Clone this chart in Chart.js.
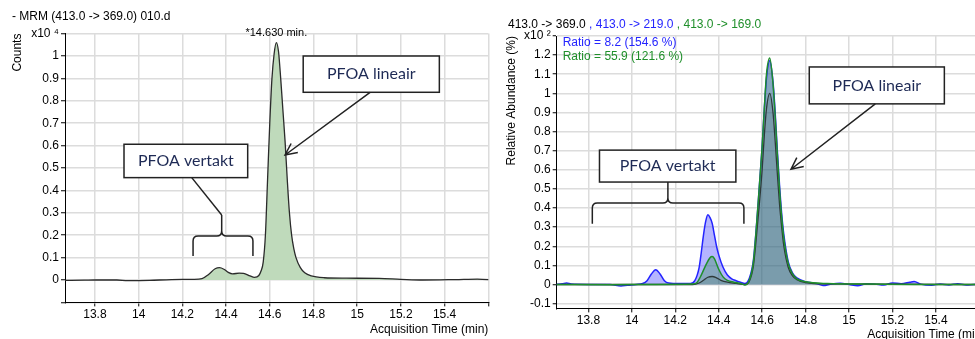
<!DOCTYPE html>
<html>
<head>
<meta charset="utf-8">
<script src="https://cdn.jsdelivr.net/npm/chart.js@4.4.0/dist/chart.umd.min.js"></script>
<style>
  html, body { margin: 0; padding: 0; background: #fff; overflow: hidden; }
  #wrap { position: relative; width: 975px; height: 339px; overflow: hidden; }
  #leftChart { position: absolute; left: 0; top: 0; }
  #rightChart { position: absolute; left: 490px; top: 0; }
</style>
</head>
<body>
<div id="wrap">
  <canvas id="leftChart" width="500" height="339"></canvas>
  <canvas id="rightChart" width="510" height="345"></canvas>
</div>
<script>
// Axis ticks
const xTicks = [13.8, 14, 14.2, 14.4, 14.6, 14.8, 15, 15.2, 15.4, 15.6];
const xTickLabels = ['13.8', '14', '14.2', '14.4', '14.6', '14.8', '15', '15.2', '15.4', ''];
const leftYTicks = [-0.1, 0, 0.1, 0.2, 0.3, 0.4, 0.5, 0.6, 0.7, 0.8, 0.9, 1, 1.1];
const leftYLabels = ['', '0', '0.1', '0.2', '0.3', '0.4', '0.5', '0.6', '0.7', '0.8', '0.9', '1', 'x10 \u2074'];
const rightYTicks = [-0.1, 0, 0.1, 0.2, 0.3, 0.4, 0.5, 0.6, 0.7, 0.8, 0.9, 1, 1.1, 1.2, 1.3];
const rightYLabels = ['-0.1', '0', '0.1', '0.2', '0.3', '0.4', '0.5', '0.6', '0.7', '0.8', '0.9', '1', '1.1', '1.2', 'x10 \u00b2'];

// Left: MRM 413.0 -> 369.0, counts x10^4
const mrmTime = [13.66, 13.75, 13.8, 13.9, 13.95, 14.05, 14.15, 14.25, 14.29, 14.32, 14.35, 14.37, 14.39, 14.41,
  14.43, 14.46, 14.48, 14.51, 14.53, 14.55, 14.56, 14.57, 14.58, 14.59, 14.6, 14.61, 14.62, 14.63, 14.64,
  14.65, 14.66, 14.67, 14.68, 14.69, 14.7, 14.71, 14.72, 14.74, 14.76, 14.79, 14.85, 14.95, 15.1, 15.2,
  15.3, 15.45, 15.55, 15.63];
const mrmCounts = [-0.002, -0.001, 0, 0, -0.003, -0.002, 0.002, 0.003, 0.006, 0.025, 0.05, 0.055, 0.048, 0.034,
  0.027, 0.031, 0.03, 0.018, 0.012, 0.02, 0.04, 0.08, 0.2, 0.45, 0.7, 0.9, 1.01, 1.06, 1.02,
  0.9, 0.76, 0.62, 0.45, 0.3, 0.2, 0.14, 0.1, 0.055, 0.032, 0.018, 0.01, 0.008, 0.007, 0.003,
  0, 0.002, 0.004, 0];

// Right: relative abundance (% x10^2)
const q219Time = [13.65, 13.68, 13.7, 13.72, 13.8, 13.9, 13.95, 13.98, 14.02, 14.05, 14.07, 14.09, 14.11, 14.13,
  14.15, 14.17, 14.22, 14.27, 14.29, 14.31, 14.32, 14.33, 14.34, 14.35, 14.36, 14.37, 14.38, 14.39, 14.4,
  14.42, 14.44, 14.46, 14.48, 14.5, 14.52, 14.54, 14.56, 14.58, 14.6, 14.61, 14.62, 14.635, 14.65, 14.66,
  14.67, 14.68, 14.69, 14.7, 14.72, 14.74, 14.76, 14.8, 14.85, 14.88, 14.92, 14.96, 15, 15.04, 15.08,
  15.12, 15.16, 15.2, 15.24, 15.28, 15.3, 15.33, 15.38, 15.42, 15.46, 15.5, 15.55, 15.6, 15.64];
const q219Abund = [0, 0.004, 0.008, 0.002, 0, 0, -0.008, -0.004, 0, 0.005, 0.02, 0.055, 0.077, 0.055,
  0.02, 0.008, 0.005, 0.005, 0.02, 0.09, 0.17, 0.26, 0.33, 0.365, 0.35, 0.32, 0.26, 0.2, 0.155,
  0.09, 0.05, 0.03, 0.02, 0.012, 0.005, 0.03, 0.13, 0.4, 0.72, 0.92, 1.08, 1.17, 1.06, 0.9,
  0.7, 0.52, 0.37, 0.26, 0.12, 0.06, 0.035, 0.015, 0.005, -0.005, 0.003, 0.006, 0, -0.006, 0.004,
  0.002, -0.003, 0.008, 0.004, 0.012, 0.016, 0.002, -0.004, 0.003, -0.002, 0.004, -0.003, 0.002, 0];

const q169Time = [13.65, 13.9, 14.1, 14.28, 14.3, 14.32, 14.34, 14.36, 14.37, 14.38, 14.4, 14.42, 14.44, 14.47,
  14.5, 14.52, 14.54, 14.56, 14.58, 14.6, 14.61, 14.62, 14.635, 14.65, 14.66, 14.67, 14.68, 14.69, 14.7,
  14.72, 14.74, 14.76, 14.8, 14.9, 15.1, 15.3, 15.64];
const q169Abund = [0, -0.001, 0, 0.002, 0.01, 0.05, 0.1, 0.14, 0.146, 0.135, 0.08, 0.04, 0.022, 0.012,
  0.005, -0.002, 0.02, 0.12, 0.4, 0.72, 0.92, 1.1, 1.185, 1.05, 0.88, 0.68, 0.5, 0.35, 0.24,
  0.11, 0.055, 0.03, 0.014, 0.005, 0.002, 0, 0];

const q369Time = [13.65, 14.28, 14.31, 14.33, 14.35, 14.37, 14.39, 14.41, 14.44, 14.48, 14.52, 14.54, 14.56,
  14.58, 14.6, 14.61, 14.62, 14.635, 14.65, 14.66, 14.67, 14.68, 14.69, 14.7, 14.72, 14.74, 14.76, 14.8,
  14.9, 15.64];
const q369Abund = [0, 0, 0.008, 0.022, 0.038, 0.042, 0.035, 0.022, 0.012, 0.006, 0, 0.015, 0.1,
  0.33, 0.6, 0.78, 0.92, 1.0, 0.9, 0.75, 0.58, 0.42, 0.3, 0.2, 0.09, 0.045, 0.025, 0.01,
  0.003, 0];

const FONT = '"Liberation Sans", Arial, sans-serif';
const toXY = (t, v) => t.map((x, i) => ({ x, y: v[i] }));

// Annotations (in data units)
const leftNotes = {
  boxes: [
    { text: 'PFOA lineair', x0: 14.753, x1: 15.376, y0: 1.0, y1: 0.838 },
    { text: 'PFOA vertakt', x0: 13.933, x1: 14.499, y0: 0.606, y1: 0.457 }
  ],
  arrows: [
    { from: [15.059, 0.838], to: [14.67, 0.558], head: true },
    { from: [14.243, 0.457], to: [14.38, 0.29], head: false }
  ],
  brace: { xl: 14.249, xr: 14.523, xc: 14.38, top: 0.29, bar: 0.196, end: 0.107 }
};
const rightNotes = {
  boxes: [
    { text: 'PFOA lineair', x0: 14.817, x1: 15.439, y0: 1.138, y1: 0.945 },
    { text: 'PFOA vertakt', x0: 13.851, x1: 14.479, y0: 0.703, y1: 0.536 }
  ],
  arrows: [
    { from: [15.121, 0.945], to: [14.733, 0.603], head: true }
  ],
  brace: { xl: 13.818, xr: 14.516, xc: 14.166, top: 0.536, bar: 0.427, end: 0.318 }
};

function notesPlugin(notes, drawTexts) {
  return {
    id: 'notes',
    afterDatasetsDraw(chart) {
      const { ctx, scales: { x, y } } = chart;
      const px = v => x.getPixelForValue(v);
      const py = v => y.getPixelForValue(v);
      ctx.save();
      ctx.strokeStyle = '#222';
      ctx.lineWidth = 1.5;
      notes.boxes.forEach(b => {
        const l = px(b.x0), r = px(b.x1), t = py(b.y0), bt = py(b.y1);
        ctx.fillStyle = '#fff';
        ctx.fillRect(l, t, r - l, bt - t);
        ctx.strokeRect(l, t, r - l, bt - t);
        ctx.fillStyle = '#1e2a55';
        ctx.font = '16px Lato, "Open Sans", sans-serif';
        ctx.textAlign = 'center';
        ctx.textBaseline = 'middle';
        ctx.fillText(b.text, (l + r) / 2, (t + bt) / 2);
      });
      notes.arrows.forEach(a => {
        const x1 = px(a.from[0]), y1 = py(a.from[1]), x2 = px(a.to[0]), y2 = py(a.to[1]);
        ctx.beginPath();
        ctx.moveTo(x1, y1);
        ctx.lineTo(x2, y2);
        if (a.head) {
          const ang = Math.atan2(y2 - y1, x2 - x1);
          const len = 13;
          ctx.moveTo(x2 - len * Math.cos(ang - 0.45), y2 - len * Math.sin(ang - 0.45));
          ctx.lineTo(x2, y2);
          ctx.lineTo(x2 - len * Math.cos(ang + 0.45), y2 - len * Math.sin(ang + 0.45));
        }
        ctx.stroke();
      });
      const br = notes.brace;
      const xl = px(br.xl), xr = px(br.xr), xc = px(br.xc);
      const yt = py(br.top), yb = py(br.bar), ye = py(br.end);
      const rr = 5;
      ctx.beginPath();
      ctx.moveTo(xl, ye);
      ctx.lineTo(xl, yb + rr);
      ctx.quadraticCurveTo(xl, yb, xl + rr, yb);
      ctx.lineTo(xc - rr, yb);
      ctx.quadraticCurveTo(xc, yb, xc, yb - rr);
      ctx.lineTo(xc, yt);
      ctx.moveTo(xr, ye);
      ctx.lineTo(xr, yb + rr);
      ctx.quadraticCurveTo(xr, yb, xr - rr, yb);
      ctx.lineTo(xc + rr, yb);
      ctx.quadraticCurveTo(xc, yb, xc, yb - rr);
      ctx.stroke();
      ctx.restore();
    },
    afterDraw(chart) {
      const { ctx } = chart;
      ctx.save();
      ctx.textBaseline = 'middle';
      ctx.textAlign = 'left';
      drawTexts(chart, ctx);
      ctx.restore();
    }
  };
}

function axes(opts) {
  return {
    x: {
      type: 'linear',
      min: opts.xMin,
      max: opts.xMax,
      afterBuildTicks: s => { s.ticks = xTicks.map(v => ({ value: v })); },
      afterFit: s => { s.height = 36.6; },
      grid: { color: '#dcdcdc', lineWidth: 1.5, tickColor: '#000', tickLength: 4, tickWidth: 1 },
      border: { color: '#000', width: 1 },
      ticks: {
        callback: (v, i) => xTickLabels[i],
        font: { family: FONT, size: 12 },
        color: '#000',
        padding: 1,
        maxRotation: 0,
        autoSkip: false
      },
      title: {
        display: true,
        text: 'Acquisition Time (min)',
        align: 'end',
        font: { family: FONT, size: 12 },
        color: '#000',
        padding: { top: 0, bottom: opts.xTitlePad }
      }
    },
    y: {
      type: 'linear',
      min: opts.yMin,
      max: opts.yMax,
      afterBuildTicks: s => { s.ticks = opts.yTicks.map(v => ({ value: v })); },
      afterFit: s => { s.width = opts.yWidth; },
      grid: { color: '#dcdcdc', lineWidth: 1.5, tickColor: '#000', tickLength: 4, tickWidth: 1 },
      border: { color: '#000', width: 1 },
      ticks: {
        callback: (v, i) => opts.yLabels[i],
        font: { family: FONT, size: 12 },
        color: '#000',
        padding: 2,
        autoSkip: false
      },
      title: {
        display: true,
        text: opts.yTitle,
        align: 'end',
        font: { family: FONT, size: 12 },
        color: '#000',
        padding: { top: opts.yTitlePad, bottom: 0 }
      }
    }
  };
}

// Left chart
new Chart(document.getElementById('leftChart'), {
  type: 'line',
  data: {
    datasets: [{
      label: '413.0 -> 369.0',
      data: toXY(mrmTime, mrmCounts),
      borderColor: '#2b2b2b',
      borderWidth: 1.3,
      backgroundColor: '#bfdabb',
      fill: 'origin',
      pointRadius: 0,
      cubicInterpolationMode: 'monotone'
    }]
  },
  options: {
    responsive: false,
    animation: false,
    devicePixelRatio: 1,
    layout: { padding: { left: 0, right: 11.7, top: 33.6, bottom: 0 } },
    plugins: { legend: { display: false }, tooltip: { enabled: false } },
    scales: axes({
      xMin: 13.663, xMax: 15.6,
      yMin: -0.1, yMax: 1.1, yTicks: leftYTicks, yLabels: leftYLabels,
      yWidth: 65, yTitle: 'Counts', yTitlePad: 10, xTitlePad: 2
    })
  },
  plugins: [notesPlugin(leftNotes, (chart, ctx) => {
    ctx.fillStyle = '#000';
    ctx.font = '12px ' + FONT;
    ctx.fillText('- MRM (413.0 -> 369.0) 010.d', 12, 17);
    ctx.textAlign = 'center';
    ctx.font = '11px ' + FONT;
    ctx.fillText('*14.630 min.', chart.scales.x.getPixelForValue(14.63), 33);
  })]
});

// Right chart
new Chart(document.getElementById('rightChart'), {
  type: 'line',
  data: {
    datasets: [
      {
        label: '413.0 -> 169.0',
        data: toXY(q169Time, q169Abund),
        borderColor: '#1f8f2a',
        borderWidth: 1.5,
        backgroundColor: 'rgba(0, 128, 0, 0.25)',
        fill: 'origin',
        pointRadius: 0,
        cubicInterpolationMode: 'monotone'
      },
      {
        label: '413.0 -> 369.0',
        data: toXY(q369Time, q369Abund),
        borderColor: '#2e3a3a',
        borderWidth: 1.3,
        backgroundColor: 'rgba(60, 80, 90, 0.15)',
        fill: 'origin',
        pointRadius: 0,
        cubicInterpolationMode: 'monotone'
      },
      {
        label: '413.0 -> 219.0',
        data: toXY(q219Time, q219Abund),
        borderColor: '#2424ff',
        borderWidth: 1.5,
        backgroundColor: 'rgba(90, 90, 255, 0.45)',
        fill: 'origin',
        pointRadius: 0,
        cubicInterpolationMode: 'monotone'
      }
    ]
  },
  options: {
    responsive: false,
    animation: false,
    devicePixelRatio: 1,
    layout: { padding: { left: 0, right: 14.6, top: 36, bottom: 0 } },
    plugins: {
      legend: { display: false },
      tooltip: { enabled: false },
      filler: { drawTime: 'beforeDatasetsDraw' }
    },
    scales: axes({
      xMin: 13.654, xMax: 15.628,
      yMin: -0.125, yMax: 1.3, yTicks: rightYTicks, yLabels: rightYLabels,
      yWidth: 66.7, yTitle: 'Relative Abundance (%)', yTitlePad: 14, xTitlePad: 3
    })
  },
  plugins: [notesPlugin(rightNotes, (chart, ctx) => {
    ctx.font = '12px ' + FONT;
    const parts = [['413.0 -> 369.0', '#000'], [' , 413.0 -> 219.0', '#2424ff'], [' , 413.0 -> 169.0', '#1f8f2a']];
    let tx = 18;
    parts.forEach(([s, c]) => {
      ctx.fillStyle = c;
      ctx.fillText(s, tx, 25);
      tx += ctx.measureText(s).width;
    });
    ctx.fillStyle = '#2424ff';
    ctx.fillText('Ratio = 8.2 (154.6 %)', 72.7, 42.7);
    ctx.fillStyle = '#1f8f2a';
    ctx.fillText('Ratio = 55.9 (121.6 %)', 72.7, 56.7);
  })]
});
</script>
</body>
</html>
